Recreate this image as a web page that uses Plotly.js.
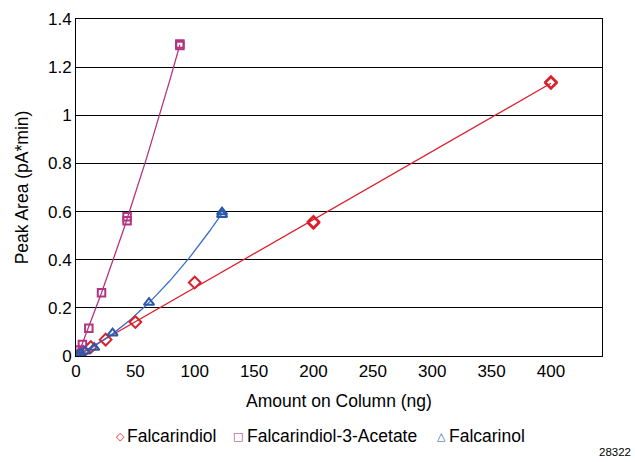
<!DOCTYPE html>
<html>
<head>
<meta charset="utf-8">
<script src="https://cdn.plot.ly/plotly-3.0.1.min.js"></script>
<style>html,body{margin:0;padding:0;background:#fff;}#chart{width:635px;height:462px;}</style>
</head>
<body>
<div id="chart"></div>
<script>
// Falcarindiol (red diamonds)
const falcarindiolX = [3, 6, 12.5, 25, 50, 100, 200, 200, 400, 400];
const falcarindiolY = [0.008, 0.018, 0.037, 0.068, 0.141, 0.305, 0.553, 0.558, 1.134, 1.138];
// Falcarindiol-3-Acetate (magenta squares)
const acetateX = [2.7, 5.4, 10.8, 21.5, 43, 43, 87.5, 87.5];
const acetateY = [0.025, 0.048, 0.115, 0.263, 0.562, 0.578, 1.29, 1.296];
// Falcarinol (blue triangles)
const falcarinolX = [1.5, 3.8, 7.7, 15.4, 30.8, 61.5, 123, 123];
const falcarinolY = [0.004, 0.01, 0.02, 0.035, 0.095, 0.222, 0.587, 0.598];

const seriesNames = ['Falcarindiol', 'Falcarindiol-3-Acetate', 'Falcarinol'];
const seriesSymbols = ['\u25C7', '\u25A1', '\u25B3'];
const xTickVals = [0, 50, 100, 150, 200, 250, 300, 350, 400];
const yTickVals = [0, 0.2, 0.4, 0.6, 0.8, 1, 1.2, 1.4];

// least squares polynomial fit (trendline, as in the source spreadsheet)
function polyfit(xs, ys, deg) {
  const n = deg + 1;
  const A = Array.from({length: n}, () => new Array(n + 1).fill(0));
  for (let k = 0; k < xs.length; k++) {
    for (let i = 0; i < n; i++) {
      for (let j = 0; j < n; j++) A[i][j] += Math.pow(xs[k], i + j);
      A[i][n] += ys[k] * Math.pow(xs[k], i);
    }
  }
  for (let i = 0; i < n; i++) {
    let p = i;
    for (let r = i + 1; r < n; r++) if (Math.abs(A[r][i]) > Math.abs(A[p][i])) p = r;
    [A[i], A[p]] = [A[p], A[i]];
    for (let r = 0; r < n; r++) {
      if (r === i) continue;
      const f = A[r][i] / A[i][i];
      for (let c = i; c <= n; c++) A[r][c] -= f * A[i][c];
    }
  }
  return A.map((row, i) => row[n] / row[i]);
}
function trend(xs, ys, deg) {
  const c = polyfit(xs, ys, deg);
  const lo = Math.min(...xs), hi = Math.max(...xs);
  const tx = [], ty = [];
  for (let i = 0; i <= 60; i++) {
    const x = lo + (hi - lo) * i / 60;
    tx.push(x);
    ty.push(c.reduce((s, ci, p) => s + ci * Math.pow(x, p), 0));
  }
  return {x: tx, y: ty};
}

const red = 'rgb(218,32,44)';
const pink = 'rgb(178,52,130)';
const blue = 'rgb(44,88,170)';
const colors = [red, pink, blue];

const tRed = trend(falcarindiolX, falcarindiolY, 1);
const tPink = trend(acetateX, acetateY, 2);
const tBlue = trend(falcarinolX, falcarinolY, 2);

const data = [
  {x: tRed.x, y: tRed.y, mode: 'lines', line: {color: red, width: 1.3}, showlegend: false, hoverinfo: 'skip'},
  {x: tPink.x, y: tPink.y, mode: 'lines', line: {color: pink, width: 1.3}, showlegend: false, hoverinfo: 'skip'},
  {x: tBlue.x, y: tBlue.y, mode: 'lines', line: {color: 'rgb(60,110,200)', width: 1.3}, showlegend: false, hoverinfo: 'skip'},
  {x: falcarindiolX, y: falcarindiolY, name: seriesNames[0], mode: 'markers', showlegend: false,
   marker: {symbol: 'diamond-open', size: 9, color: red, line: {width: 2, color: red}}},
  {x: acetateX, y: acetateY, name: seriesNames[1], mode: 'markers', showlegend: false,
   marker: {symbol: 'square-open', size: 7.5, color: pink, line: {width: 2, color: pink}}},
  {x: falcarinolX, y: falcarinolY, name: seriesNames[2], mode: 'markers', showlegend: false,
   marker: {symbol: 'triangle-up-open', size: 9, color: blue, line: {width: 2, color: blue}}}
];

const fam = 'Liberation Sans, Arial, sans-serif';
const font = {family: fam, size: 17.5, color: '#000'};

// legend drawn as annotations (symbol + label), positions in pixels
const plotL = 76, plotW = 526, plotB = 356, plotH = 337;
const px2x = px => (px - plotL) / plotW;
const py2y = py => (plotB - py) / plotH;
const legendSymbolPx = [120, 238, 441];
const legendTextPx = [126, 246, 448];
const legendPy = 436;

const annotations = [];
seriesNames.forEach((name, i) => {
  annotations.push({
    text: '<b>' + seriesSymbols[i] + '</b>', xref: 'paper', yref: 'paper',
    x: px2x(legendSymbolPx[i]), y: py2y(legendPy), xanchor: 'center', yanchor: 'middle',
    showarrow: false, borderpad: 0, font: {family: 'DejaVu Sans, sans-serif', size: 11, color: colors[i]}
  });
  annotations.push({
    text: name, xref: 'paper', yref: 'paper',
    x: px2x(legendTextPx[i]), y: py2y(legendPy), xanchor: 'left', yanchor: 'middle',
    showarrow: false, borderpad: 0, font: font
  });
});
annotations.push({
  text: '28322', xref: 'paper', yref: 'paper', x: px2x(632), y: py2y(452),
  xanchor: 'right', yanchor: 'middle', showarrow: false, borderpad: 0,
  font: {family: fam, size: 11.5, color: '#000'}
});

const layout = {
  width: 635, height: 462,
  margin: {l: 76, r: 33, t: 19, b: 106},
  paper_bgcolor: '#fff', plot_bgcolor: '#fff',
  font: font,
  showlegend: false,
  xaxis: {
    range: [0, 443], tickvals: xTickVals, ticktext: xTickVals.map(String),
    showgrid: false, zeroline: false, showline: true, linecolor: '#000', linewidth: 1, mirror: true,
    ticks: '', tickfont: {family: fam, size: 17, color: '#000'}, automargin: false,
    title: {text: 'Amount on Column (ng)', font: font, standoff: 14}
  },
  yaxis: {
    range: [0, 1.4], tickvals: yTickVals, ticktext: yTickVals.map(String),
    showgrid: true, gridcolor: '#000', gridwidth: 1, zeroline: false,
    showline: true, linecolor: '#000', linewidth: 1, mirror: true,
    ticks: '', tickfont: {family: fam, size: 17, color: '#000'}, automargin: false,
    title: {text: 'Peak Area (pA*min)', font: font, standoff: 14}
  },
  annotations: annotations
};

Plotly.newPlot('chart', data, layout, {displayModeBar: false, staticPlot: true});
</script>
</body>
</html>
